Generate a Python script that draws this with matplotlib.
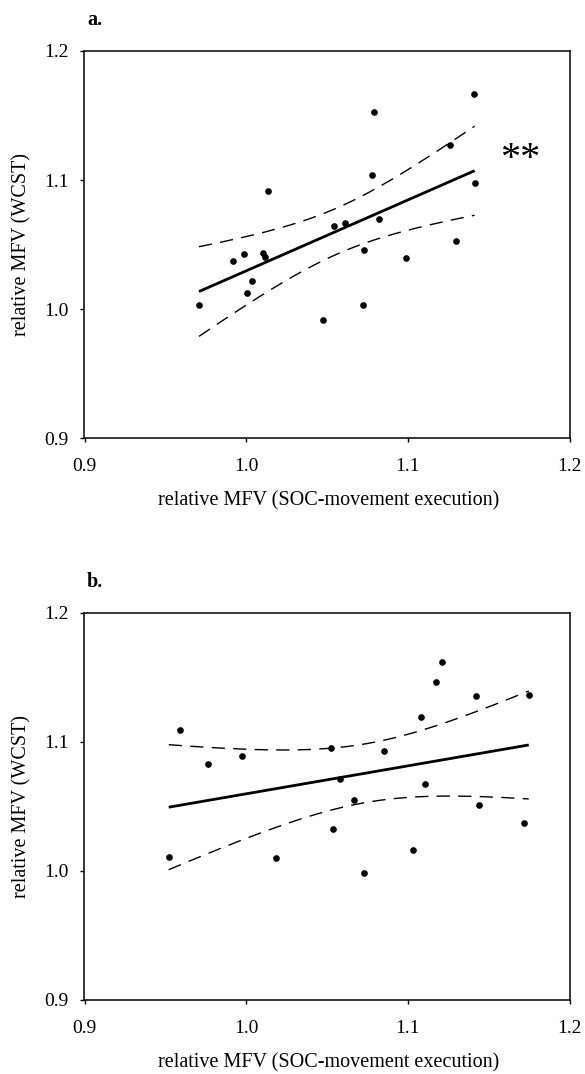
import numpy as np
import matplotlib
matplotlib.use("Agg")
import matplotlib.pyplot as plt

# ---- data ----
a_x = [0.9708, 0.9916, 0.9985, 1.0007, 1.0034, 1.0102, 1.0117, 1.0133, 1.0477, 1.0542,
       1.0613, 1.0722, 1.0731, 1.0781, 1.0790, 1.0824, 1.0989, 1.1262, 1.1301, 1.1409, 1.1413]
a_y = [1.0033, 1.0374, 1.0426, 1.0129, 1.0219, 1.0436, 1.0405, 1.0912, 0.9917, 1.0646,
       1.0669, 1.0029, 1.0457, 1.1036, 1.1529, 1.0695, 1.0398, 1.1271, 1.0525, 1.1664, 1.0977]

b_x = [0.9521, 0.9593, 0.9763, 0.9975, 1.0184, 1.0524, 1.0537, 1.0582, 1.0667, 1.0731,
       1.0853, 1.1034, 1.1079, 1.1108, 1.1177, 1.1214, 1.1424, 1.1441, 1.1717, 1.1748]
b_y = [1.0104, 1.1091, 1.0825, 1.0887, 1.0098, 1.0949, 1.0323, 1.0709, 1.0548, 0.9980,
       1.0928, 1.0160, 1.1194, 1.0672, 1.1463, 1.1615, 1.1354, 1.0509, 1.0372, 1.1362]

ticks = [0.9, 1.0, 1.1, 1.2]
tick_labels = ["0.9", "1.0", "1.1", "1.2"]
panel_labels = ["a.", "b."]
significance = ["**", ""]
# two-sided 95% t quantiles for n-2 degrees of freedom (21 and 20 points)
t_crit = [2.093, 2.101]

xlabel = "relative MFV (SOC-movement execution)"
ylabel = "relative MFV (WCST)"

plt.rcParams['font.family'] = ['Liberation Serif', 'DejaVu Serif']

W, H = 585, 1074
fig = plt.figure(figsize=(W / 100, H / 100), dpi=100)

def px_rect(l, t, r, b):
    return [l / W, 1 - b / H, (r - l) / W, (b - t) / H]

axes_px = [(84.5, 51, 569.5, 438.3), (84.5, 612.7, 569.5, 999.7)]
datasets = [(a_x, a_y), (b_x, b_y)]

for i, ((xs, ys), (l, t, r, b)) in enumerate(zip(datasets, axes_px)):
    ax = fig.add_axes(px_rect(l, t, r, b))
    x = np.array(xs)
    y = np.array(ys)
    n = len(x)
    slope, icpt = np.polyfit(x, y, 1)
    resid = y - (slope * x + icpt)
    s = np.sqrt(np.sum(resid ** 2) / (n - 2))
    xx = np.linspace(x.min(), x.max(), 200)
    yy = slope * xx + icpt
    se = s * np.sqrt(1 / n + (xx - x.mean()) ** 2 / np.sum((x - x.mean()) ** 2))
    hw = t_crit[i] * se

    ax.plot(xx, yy + hw, color='black', lw=1.0, dashes=(9.5, 6))
    ax.plot(xx, yy - hw, color='black', lw=1.0, dashes=(9.5, 6))
    ax.plot(xx, yy, color='black', lw=2.0, solid_capstyle='butt')
    ax.plot(x, y, 'o', color='black', ms=4.8, mec='none')

    ax.set_xlim(0.9, 1.2)
    ax.set_ylim(0.9, 1.2)
    ax.set_xticks(ticks)
    ax.set_yticks(ticks)
    ax.set_xticklabels(tick_labels)
    ax.set_yticklabels(tick_labels)
    ax.tick_params(direction='out', length=3, width=1.0, labelsize=14, color='black')
    ax.tick_params(axis='x', pad=11.5)
    ax.tick_params(axis='y', pad=8.3)
    for sp in ax.spines.values():
        sp.set_linewidth(1.1)
        sp.set_color('black')

    # axis labels
    fig.text(329 / W, 1 - (b + 63) / H, xlabel, ha='center', va='center', fontsize=14.5)
    fig.text(22 / W, 1 - ((t + b) / 2) / H, ylabel, ha='center', va='center',
             rotation=90, fontsize=14.5)
    # panel letter
    fig.text(87 / W, 1 - (t - 31) / H, panel_labels[i], ha='left', va='center',
             fontsize=14.5, fontweight='bold')
    if significance[i]:
        fig.text(520 / W, 1 - (t + 118.3) / H, significance[i], ha='center',
                 va='baseline', fontsize=29)

fig.savefig("out.png", dpi=100)
